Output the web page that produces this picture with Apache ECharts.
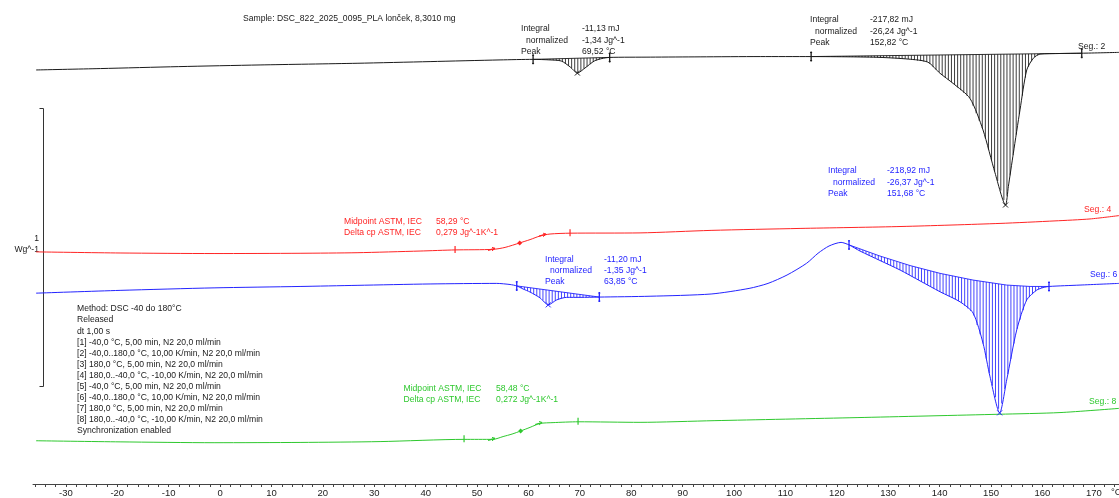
<!DOCTYPE html>
<html>
<head>
<meta charset="utf-8">
<script src="https://cdn.jsdelivr.net/npm/echarts@6/dist/echarts.min.js"></script>
<style>
  html, body { margin: 0; padding: 0; background: #fff; }
  #chart { width: 1119px; height: 498px; }
</style>
</head>
<body>
<div id="chart"></div>
<script>
// DSC thermogram, PLA sample, four segments stacked vertically.
// Points are [temperature °C, plotted heat flow W/g (segments offset)].
const seg2 = [
  [-35.8,1.484],[-23.3,1.489],[-8.05,1.496],[7.78,1.502],[26.65,1.508],[40.86,1.514],
  [54.47,1.520],[60.9,1.522],[64.2,1.520],[66.4,1.516],[68.1,1.495],[69.52,1.473],
  [71.0,1.491],[72.8,1.516],[74.3,1.525],[75.8,1.529],[83.7,1.530],[93.4,1.531],
  [105.1,1.532],[115.0,1.532],[122.6,1.531],[128.4,1.529],[133.9,1.523],[137.7,1.512],
  [140.08,1.472],[142.61,1.436],[145.91,1.382],[148.44,1.269],[150.78,1.115],[152.82,1.000],
  [153.37,1.066],[154.34,1.185],[155.64,1.341],[156.95,1.484],[158.23,1.526],[159.53,1.541],
  [163.42,1.543],[167.65,1.544],[174.9,1.547]
];
const seg4 = [
  [-35.8,0.832],[-19.46,0.828],[-1.17,0.826],[15.56,0.827],[26.65,0.829],[38.91,0.835],
  [45.72,0.839],[53.11,0.841],[55.45,0.848],[58.29,0.864],[60.31,0.876],[62.26,0.889],
  [64.2,0.896],[68.09,0.899],[81.71,0.900],[95.53,0.909],[112.84,0.916],[132.68,0.923],
  [151.75,0.934],[162.45,0.943],[169.26,0.950],[174.9,0.962]
];
const seg6 = [
  [-35.8,0.684],[-19.46,0.694],[-1.17,0.703],[15.56,0.708],[26.65,0.712],[40.86,0.717],
  [53.83,0.719],[56.42,0.715],[57.72,0.710],[58.95,0.699],[60.31,0.688],[62.26,0.667],
  [63.85,0.642],[65.51,0.660],[67.45,0.669],[70.04,0.669],[73.79,0.670],[83.66,0.673],
  [95.53,0.681],[102.92,0.701],[106.61,0.719],[110.31,0.749],[114.11,0.791],[116.34,0.827],
  [118.48,0.853],[120.82,0.866],[122.37,0.857],[124.51,0.835],[128.40,0.801],[132.3,0.767],
  [136.19,0.728],[140.08,0.689],[143.97,0.653],[146.50,0.613],[148.44,0.505],[149.81,0.384],
  [151.68,0.255],[153.05,0.373],[155.0,0.552],[156.95,0.660],[158.89,0.695],[160.12,0.704],
  [161.28,0.708],[167.32,0.713],[174.9,0.719]
];
const seg8 = [
  [-35.8,0.155],[-19.46,0.151],[-1.17,0.148],[15.56,0.149],[31.13,0.152],[47.47,0.160],
  [53.11,0.160],[55.06,0.170],[56.81,0.179],[58.48,0.190],[60.31,0.203],[62.26,0.217],
  [64.79,0.220],[69.65,0.223],[81.71,0.221],[96.11,0.227],[123.93,0.238],[151.56,0.250],
  [163.42,0.256],[174.9,0.271]
];

// Integration baselines
const seg2Base1 = [[60.9,1.522],[75.8,1.529]];
const seg2Base2 = [[115.0,1.532],[167.65,1.544]];
const seg6Base1 = [[57.72,0.710],[73.79,0.670]];
const seg6Base2 = [[122.37,0.857],[128.40,0.817],[134.24,0.783],[140.08,0.755],[146.50,0.731],
                   [153.05,0.713],[157.59,0.708],[161.28,0.708]];

// Evaluation marks
const seg2Limits = [60.9, 75.8, 115.0, 167.65];
const seg6Limits = [57.72, 73.79, 122.37, 161.28];
const seg2Peaks = [69.52, 152.82];
const seg6Peaks = [63.85, 151.68];
const seg4Limits = [45.72, 68.09];
const seg4Onsets = [53.11, 63.04];
const seg4Midpoint = 58.29;
const seg8Limits = [47.47, 69.65];
const seg8Onsets = [53.11, 62.26];
const seg8Midpoint = 58.48;

// Axis labels
const tickLabels = [-30,-20,-10,0,10,20,30,40,50,60,70,80,90,100,110,120,130,140,150,160,170];
const tickStep = 2;

const methodLines = [
  'Method: DSC -40 do 180°C',
  'Released',
  'dt 1,00 s',
  '[1] -40,0 °C, 5,00 min, N2 20,0 ml/min',
  '[2] -40,0..180,0 °C, 10,00 K/min, N2 20,0 ml/min',
  '[3] 180,0 °C, 5,00 min, N2 20,0 ml/min',
  '[4] 180,0..-40,0 °C, -10,00 K/min, N2 20,0 ml/min',
  '[5] -40,0 °C, 5,00 min, N2 20,0 ml/min',
  '[6] -40,0..180,0 °C, 10,00 K/min, N2 20,0 ml/min',
  '[7] 180,0 °C, 5,00 min, N2 20,0 ml/min',
  '[8] 180,0..-40,0 °C, -10,00 K/min, N2 20,0 ml/min',
  'Synchronization enabled'
];

const BLACK = '#1a1a1a', RED = '#ff2424', BLUE = '#2424ff', GREEN = '#2ec82e';
const FONT = '8.6px "Liberation Sans", Arial, sans-serif';

function interp(arr, t) {
  if (t <= arr[0][0]) return arr[0][1];
  for (let i = 0; i < arr.length - 1; i++) {
    const a = arr[i], b = arr[i + 1];
    if (t >= a[0] && t <= b[0]) {
      const f = (t - a[0]) / (b[0] - a[0]);
      return a[1] + f * (b[1] - a[1]);
    }
  }
  return arr[arr.length - 1][1];
}

const hatches = [
  { curve: seg2, base: seg2Base1, color: BLACK },
  { curve: seg2, base: seg2Base2, color: BLACK },
  { curve: seg6, base: seg6Base1, color: BLUE },
  { curve: seg6, base: seg6Base2, color: BLUE }
];

const ticks = [];
for (let t = -36; t <= 174; t += tickStep) ticks.push(t);

function lineSeries(data, color) {
  return {
    type: 'line', data: data, showSymbol: false, smooth: 0.25,
    lineStyle: { color: color, width: 1 }, silent: true, z: 3
  };
}

function evalSeries() {
  return {
    type: 'custom', coordinateSystem: 'cartesian2d', data: [[0, 0]], silent: true, z: 4,
    renderItem: function (params, api) {
      const ch = [];
      const ln = (x1, y1, x2, y2, c, w) => ch.push({
        type: 'line', shape: { x1, y1, x2, y2 }, style: { stroke: c, lineWidth: w || 1 }
      });
      // hatched peak areas and their baselines
      hatches.forEach(h => {
        const t0 = h.base[0][0], t1 = h.base[h.base.length - 1][0];
        for (let t = t0 + 0.3; t < t1; t += 0.6) {
          const pb = api.coord([t, interp(h.base, t)]);
          const pc = api.coord([t, interp(h.curve, t)]);
          ln(pb[0], pb[1], pc[0], pc[1], h.color, 0.85);
        }
        const pts = h.base.map(p => api.coord(p));
        ch.push({ type: 'polyline', shape: { points: pts }, style: { stroke: h.color, lineWidth: 0.9, fill: null } });
      });
      // integration limits
      const limit = (curve, t, c) => {
        const p = api.coord([t, interp(curve, t)]);
        ln(p[0], p[1] - 5, p[0], p[1] + 5, c, 1.3);
        ln(p[0] - 1, p[1] - 4, p[0] + 1, p[1] - 4, c, 1);
        ln(p[0] - 1, p[1] + 4, p[0] + 1, p[1] + 4, c, 1);
      };
      seg2Limits.forEach(t => limit(seg2, t, BLACK));
      seg6Limits.forEach(t => limit(seg6, t, BLUE));
      // peak crosses
      const cross = (curve, t, c) => {
        const p = api.coord([t, interp(curve, t)]);
        ln(p[0] - 2.5, p[1] - 2.5, p[0] + 2.5, p[1] + 2.5, c, 1);
        ln(p[0] - 2.5, p[1] + 2.5, p[0] + 2.5, p[1] - 2.5, c, 1);
      };
      seg2Peaks.forEach(t => cross(seg2, t, BLACK));
      seg6Peaks.forEach(t => cross(seg6, t, BLUE));
      // glass transition marks
      const tg = (curve, limits, onsets, mid, c) => {
        limits.forEach(t => {
          const p = api.coord([t, interp(curve, t)]);
          ln(p[0], p[1] - 4, p[0], p[1] + 3, c, 1.2);
        });
        onsets.forEach(t => {
          const p = api.coord([t, interp(curve, t)]);
          ln(p[0] - 5, p[1] + 1, p[0] + 2, p[1] - 1, c, 1.2);
          ln(p[0] - 1, p[1] - 2, p[0] + 2, p[1] - 1, c, 1);
          ln(p[0] - 1, p[1] + 1.5, p[0] + 2, p[1] - 1, c, 1);
        });
        const p = api.coord([mid, interp(curve, mid)]);
        ch.push({ type: 'polygon', shape: { points: [[p[0], p[1] - 2.5], [p[0] + 2.5, p[1]], [p[0], p[1] + 2.5], [p[0] - 2.5, p[1]]] }, style: { fill: c } });
      };
      tg(seg4, seg4Limits, seg4Onsets, seg4Midpoint, RED);
      tg(seg8, seg8Limits, seg8Onsets, seg8Midpoint, GREEN);
      return { type: 'group', children: ch };
    }
  };
}

function txt(x, y, s, color, align) {
  return {
    type: 'text', x: x, y: y, silent: true,
    style: { text: s, font: FONT, fill: color, align: align || 'left', verticalAlign: 'middle' }
  };
}

function block(x1, x2, y0, dy, labels, values, color, indent) {
  const out = [];
  labels.forEach((l, i) => {
    const ix = (indent && indent[i]) ? indent[i] : 0;
    out.push(txt(x1 + ix, y0 + i * dy, l, color));
  });
  values.forEach((v, i) => out.push(txt(x2, y0 + i * dy, v, color)));
  return out;
}

const graphics = [];
graphics.push(txt(243, 19, 'Sample: DSC_822_2025_0095_PLA lonček, 8,3010 mg', BLACK));
graphics.push(...block(521, 582, 29, 11.3, ['Integral', 'normalized', 'Peak'],
  ['-11,13 mJ', '-1,34 Jg^-1', '69,52 °C'], BLACK, [0, 5, 0]));
graphics.push(...block(810, 870, 20, 11.3, ['Integral', 'normalized', 'Peak'],
  ['-217,82 mJ', '-26,24 Jg^-1', '152,82 °C'], BLACK, [0, 5, 0]));
graphics.push(...block(828, 887, 171, 11.3, ['Integral', 'normalized', 'Peak'],
  ['-218,92 mJ', '-26,37 Jg^-1', '151,68 °C'], BLUE, [0, 5, 0]));
graphics.push(...block(545, 604, 259.5, 11.3, ['Integral', 'normalized', 'Peak'],
  ['-11,20 mJ', '-1,35 Jg^-1', '63,85 °C'], BLUE, [0, 5, 0]));
graphics.push(...block(344, 436, 221.5, 11.2, ['Midpoint ASTM, IEC', 'Delta cp ASTM, IEC'],
  ['58,29 °C', '0,279 Jg^-1K^-1'], RED));
graphics.push(...block(403.5, 496, 388.5, 11.3, ['Midpoint ASTM, IEC', 'Delta cp ASTM, IEC'],
  ['58,48 °C', '0,272 Jg^-1K^-1'], GREEN));
graphics.push(txt(1078, 46.5, 'Seg.: 2', BLACK));
graphics.push(txt(1084, 210, 'Seg.: 4', RED));
graphics.push(txt(1090, 274.5, 'Seg.: 6', BLUE));
graphics.push(txt(1089, 401.5, 'Seg.: 8', GREEN));
methodLines.forEach((s, i) => graphics.push(txt(77, 309 + i * 11.1, s, BLACK)));
// heat-flow scale bar
graphics.push({ type: 'polyline', silent: true,
  shape: { points: [[39.5, 108.5], [43.5, 108.5], [43.5, 386.5], [39.5, 386.5]] },
  style: { stroke: '#333', lineWidth: 1, fill: null } });
graphics.push(txt(39, 239, '1', BLACK, 'right'));
graphics.push(txt(39, 250, 'Wg^-1', BLACK, 'right'));
graphics.push({
  type: 'text', x: 1111, y: 492.5, silent: true,
  style: { text: '°C', font: '9.5px "Liberation Sans", Arial, sans-serif', fill: '#222', verticalAlign: 'middle' }
});

const chart = echarts.init(document.getElementById('chart'), null, { renderer: 'canvas' });
chart.setOption({
  animation: false,
  backgroundColor: '#ffffff',
  grid: { left: 33, right: 0, top: 0, bottom: 14, containLabel: false },
  xAxis: {
    type: 'value', min: -36.4, max: 174.9,
    axisLine: { show: true, onZero: false, lineStyle: { color: '#444', width: 1 } },
    axisTick: { show: true, length: 3, customValues: ticks, lineStyle: { color: '#444' } },
    axisLabel: { show: true, customValues: tickLabels, margin: 4, fontSize: 9.5,
      fontFamily: '"Liberation Sans", Arial, sans-serif', color: '#222' },
    splitLine: { show: false }
  },
  yAxis: { type: 'value', min: 0, max: 484 / 279, show: false },
  series: [
    lineSeries(seg2, BLACK),
    lineSeries(seg4, RED),
    lineSeries(seg6, BLUE),
    lineSeries(seg8, GREEN),
    evalSeries()
  ],
  graphic: graphics
});
</script>
</body>
</html>
